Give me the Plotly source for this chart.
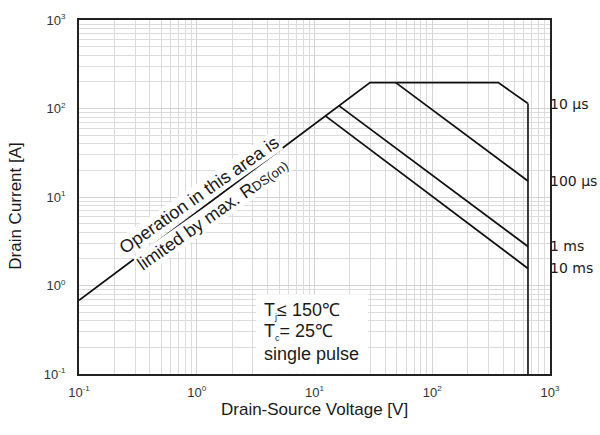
import math
import plotly.graph_objects as go

# Safe operating area, single pulse, Tc = 25 °C
# RDS(on) limit rising into the 10 µs envelope (flat pulse-current limit, then 10 µs roll-off)
env_v = [0.1, 29.6, 364, 650]
env_i = [0.68, 196, 196, 113.6]

# Breakdown-voltage limit
bv_v = [650, 650]
bv_i = [113.6, 0.1]

# Pulse-width limited lines
p100us_v = [49, 650]
p100us_i = [196, 15.2]
p1ms_v = [16.2, 650]
p1ms_i = [107, 2.76]
p10ms_v = [12.45, 650]
p10ms_i = [82, 1.56]

pulse_labels = ["10 µs", "100 µs", "1 ms", "10 ms"]
pulse_end_i = [env_i[-1], p100us_i[-1], p1ms_i[-1], p10ms_i[-1]]

tick_vals = [0.1, 1, 10, 100, 1000]
tick_text = [
    "10<sup><span style='font-size:8px'>-1</span></sup>",
    "10<sup><span style='font-size:8px'>0</span></sup>",
    "10<sup><span style='font-size:8px'>1</span></sup>",
    "10<sup><span style='font-size:8px'>2</span></sup>",
    "10<sup><span style='font-size:8px'>3</span></sup>",
]

conditions = [
    "T<sub><span style='font-size:9px'>j</span></sub>≤ 150℃",
    "T<sub><span style='font-size:9px'>c</span></sub>= 25℃",
    "single pulse",
]

LINE = "#111111"
TXT = "#1a1a1a"
ARIAL = "Liberation Sans, Arial, sans-serif"

fig = go.Figure()
fig.add_trace(go.Scatter(x=env_v, y=env_i, mode="lines",
                         line=dict(color=LINE, width=1.8)))
fig.add_trace(go.Scatter(x=bv_v, y=bv_i, mode="lines",
                         line=dict(color="#3a3a3a", width=2)))
for xv, yv in [(p100us_v, p100us_i), (p1ms_v, p1ms_i), (p10ms_v, p10ms_i)]:
    fig.add_trace(go.Scatter(x=xv, y=yv, mode="lines",
                             line=dict(color=LINE, width=1.8)))

axis_common = dict(
    type="log",
    range=[-1, 3],
    tickvals=tick_vals,
    ticktext=tick_text,
    ticks="",
    showline=True,
    linecolor="#222222",
    linewidth=2,
    mirror=True,
    showgrid=True,
    gridcolor="#d4d4d4",
    gridwidth=1,
    zeroline=False,
    tickfont=dict(family="Liberation Sans Narrow, Arial Narrow, Liberation Sans, Arial",
                  size=13, color="#333333"),
    minor=dict(dtick="D1", showgrid=True, gridcolor="#dcdcdc", gridwidth=1, ticks=""),
)

fig.update_layout(
    width=600,
    height=435,
    margin=dict(l=79, r=50, t=14, b=61),
    paper_bgcolor="white",
    plot_bgcolor="white",
    showlegend=False,
    xaxis=dict(**axis_common, ticklabelstandoff=5),
    yaxis=dict(**axis_common, ticklabelstandoff=9),
)

# white panel behind the test conditions, over the grid but under the curves
fig.add_shape(type="rect", xref="x", yref="y", layer="between",
              x0=3.18, x1=28.5, y0=0.101, y1=0.794,
              fillcolor="white", line=dict(width=0))

annotations = []

# axis titles
annotations.append(dict(text="Drain-Source Voltage [V]", xref="paper", yref="paper",
                        x=0.5, y=-0.1, xanchor="center", yanchor="middle",
                        showarrow=False, font=dict(family=ARIAL, size=17, color=TXT)))
annotations.append(dict(text="Drain Current [A]", xref="paper", yref="paper",
                        x=-0.134, y=0.475, xanchor="center", yanchor="middle",
                        textangle=-90, showarrow=False,
                        font=dict(family=ARIAL, size=17, color=TXT)))

# RDS(on) limit note along the rising line
annotations.append(dict(text="Operation in this area is", xref="paper", yref="paper",
                        x=0.255, y=0.506, xanchor="center", yanchor="middle",
                        textangle=-35, showarrow=False, bgcolor="white", borderpad=0,
                        font=dict(family=ARIAL, size=18, color=TXT)))
annotations.append(dict(text="limited by max. R<span style='font-size:13px'>DS(on)</span>",
                        xref="paper", yref="paper",
                        x=0.2824, y=0.45, xanchor="center", yanchor="middle",
                        textangle=-35, showarrow=False, bgcolor="white", borderpad=0,
                        font=dict(family=ARIAL, size=18, color=TXT)))

# test conditions
for k, line_txt in enumerate(conditions):
    annotations.append(dict(text=line_txt, xref="paper", yref="paper",
                            x=0.388, y=0.1778 - k * 0.0601,
                            xanchor="left", yanchor="middle", showarrow=False,
                            font=dict(family=ARIAL, size=18, color=TXT)))

# pulse-width labels at the right edge, level with each line's end
for lab, iv in zip(pulse_labels, pulse_end_i):
    annotations.append(dict(text=lab, xref="paper", yref="y",
                            x=1.0, y=math.log10(iv), xanchor="left", yanchor="middle",
                            xshift=-2, showarrow=False,
                            font=dict(family="DejaVu Sans, sans-serif", size=14, color=TXT)))

fig.update_layout(annotations=annotations)

fig.write_html("out.html")
